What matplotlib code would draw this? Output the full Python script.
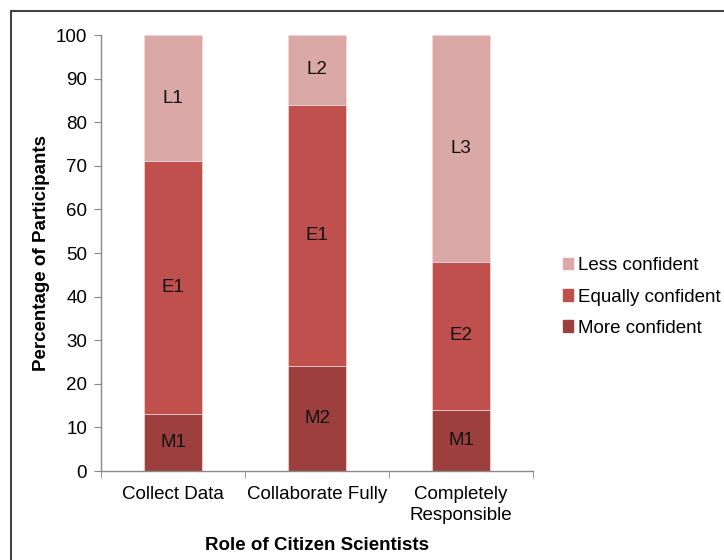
import matplotlib
matplotlib.use("Agg")
import matplotlib.pyplot as plt
from matplotlib.patches import Rectangle, Patch

plt.rcParams['font.family'] = ['Liberation Sans', 'DejaVu Sans']

categories = ["Collect Data", "Collaborate Fully", "Completely\nResponsible"]
more_conf = [13, 24, 14]
equal_conf = [58, 60, 34]
less_conf = [29, 16, 52]
more_labels = ["M1", "M2", "M1"]
equal_labels = ["E1", "E1", "E2"]
less_labels = ["L1", "L2", "L3"]

c_more = "#9C3F3E"
c_equal = "#C0504D"
c_less = "#D9A8A7"
fs = 13.5

fig = plt.figure(figsize=(7.24, 5.6), dpi=100)
ax = fig.add_axes([101/724, 1 - 471/560, (533 - 101)/724, (471 - 35)/560])

x = list(range(len(categories)))
w = 0.4
bottom2 = [m + e for m, e in zip(more_conf, equal_conf)]
ax.bar(x, more_conf, w, color=c_more, edgecolor="#f0dada", linewidth=0.5)
ax.bar(x, equal_conf, w, bottom=more_conf, color=c_equal, edgecolor="#f0dada", linewidth=0.5)
ax.bar(x, less_conf, w, bottom=bottom2, color=c_less, edgecolor="#f0dada", linewidth=0.5)

for i in x:
    ax.text(i, more_conf[i] / 2, more_labels[i], ha="center", va="center", fontsize=fs, color="#111111")
    ax.text(i, more_conf[i] + equal_conf[i] / 2, equal_labels[i], ha="center", va="center", fontsize=fs, color="#111111")
    ax.text(i, bottom2[i] + less_conf[i] / 2, less_labels[i], ha="center", va="center", fontsize=fs, color="#111111")

ax.set_xlim(-0.5, 2.5)
ax.set_ylim(0, 100)
ax.set_yticks(range(0, 101, 10))
ax.set_xticks(x)
ax.set_xticklabels(categories, fontsize=fs, linespacing=1.25)
ax.set_xticks([-0.5, 0.5, 1.5, 2.5], minor=True)
ax.tick_params(axis="x", which="major", length=0, pad=11)
ax.tick_params(axis="x", which="minor", length=5, color="#898989", direction="out")
ax.tick_params(axis="y", length=5, color="#898989", labelsize=fs, pad=5)

for s in ["top", "right"]:
    ax.spines[s].set_visible(False)
for s in ["left", "bottom"]:
    ax.spines[s].set_color("#898989")
    ax.spines[s].set_linewidth(1.0)

ax.set_ylabel("Percentage of Participants", fontsize=fs, fontweight="bold", labelpad=4)
fig.text(317/724, 1 - 545/560, "Role of Citizen Scientists", ha="center", va="center",
         fontsize=fs, fontweight="bold")

handles = [Patch(color=c_less), Patch(color=c_equal), Patch(color=c_more)]
fig.legend(handles, ["Less confident", "Equally confident", "More confident"],
           loc="center left", bbox_to_anchor=(563/724, 1 - 297/560), frameon=False,
           borderpad=0, borderaxespad=0,
           fontsize=fs, handlelength=0.55, handleheight=0.55, handletextpad=0.27,
           labelspacing=0.76)

fig.patches.append(Rectangle((11/724, -0.05), 1.1, 1 - 11/560 + 0.05, transform=fig.transFigure,
                             fill=False, edgecolor="#444444", linewidth=1.5))

fig.savefig("out.png", dpi=100)
